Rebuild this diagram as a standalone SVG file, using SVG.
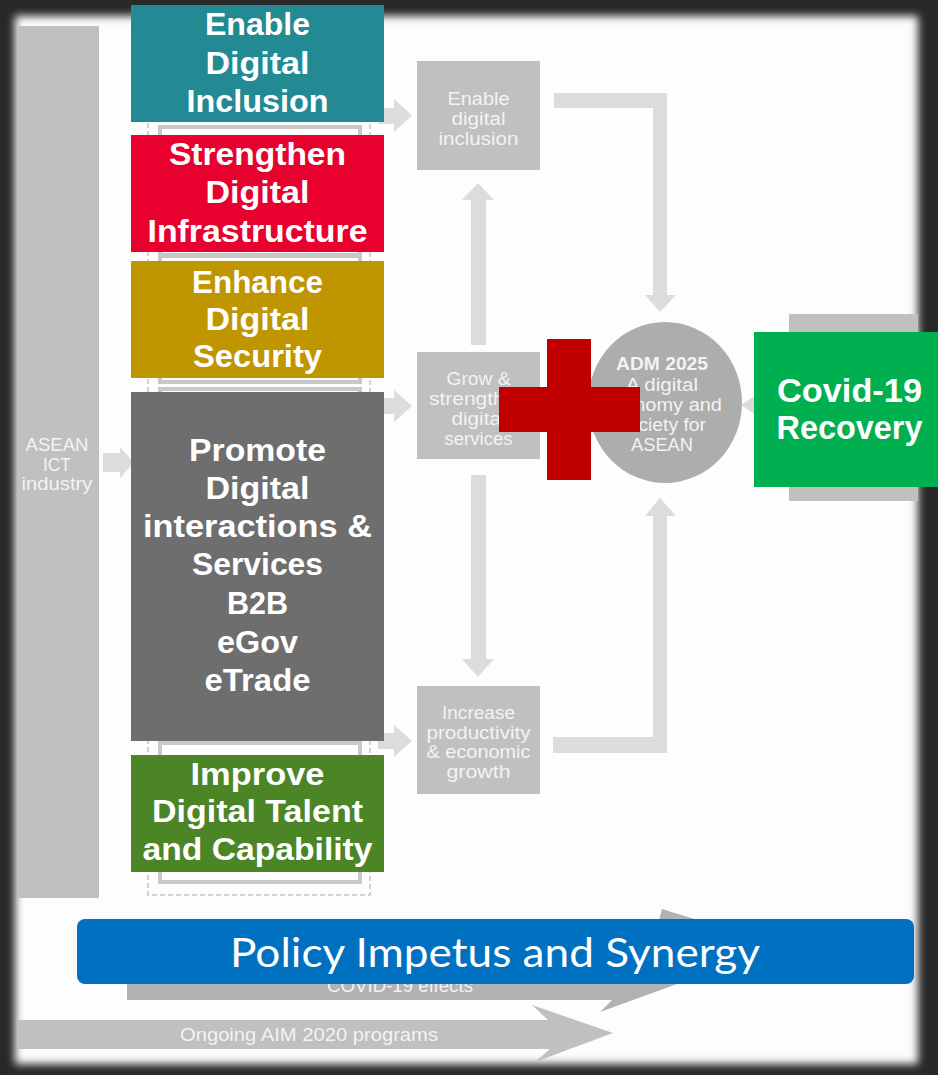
<svg xmlns="http://www.w3.org/2000/svg" width="938" height="1075" viewBox="0 0 938 1075">
<defs>
<style>
.big{font-family:"Liberation Sans",Arial,sans-serif;font-weight:700;font-size:32px;fill:#ffffff;text-anchor:middle}
.cov{font-family:"Liberation Sans",Arial,sans-serif;font-weight:700;font-size:33px;fill:#ffffff;text-anchor:middle}
.sm{font-family:"Liberation Sans",Arial,sans-serif;font-weight:400;font-size:17.5px;fill:#f3f3f3;text-anchor:middle}
.smb{font-family:"Liberation Sans",Arial,sans-serif;font-weight:700;font-size:17.5px;fill:#f3f3f3;text-anchor:middle}
.pol{font-family:Lato,"Open Sans","DejaVu Sans",sans-serif;font-weight:400;font-size:40px;fill:#ffffff;text-anchor:middle}
.gbox{fill:#c0c0c0}
.arr{fill:#dcdcdc}
.frame{fill:#ffffff;stroke:#c8c8c8;stroke-width:4}
</style>
<filter id="soft" x="-5%" y="-5%" width="110%" height="110%"><feGaussianBlur stdDeviation="4"/></filter>
</defs>

<g id="background">
<rect x="0" y="0" width="938" height="1075" fill="#282828"/>
<rect x="15" y="16" width="903" height="1048" fill="#fdfdfd" filter="url(#soft)"/>
</g>

<g id="asean-ict-industry">
<rect class="gbox" x="17" y="26" width="82" height="872"/>
<text class="sm" x="57" y="451" textLength="63" lengthAdjust="spacingAndGlyphs">ASEAN</text>
<text class="sm" x="57" y="471" textLength="28" lengthAdjust="spacingAndGlyphs">ICT</text>
<text class="sm" x="57" y="490" textLength="71" lengthAdjust="spacingAndGlyphs">industry</text>
</g>

<g id="container">
<rect x="148" y="10" width="222" height="885" fill="none" stroke="#c4c4c4" stroke-width="1.5" stroke-dasharray="5 3"/>
<rect class="frame" x="160" y="127" width="200" height="128"/>
<rect class="frame" x="160" y="256" width="200" height="126"/>
<rect class="frame" x="160" y="389" width="200" height="353"/>
<rect class="frame" x="160" y="743" width="200" height="139"/>
</g>

<g id="connectors">
<polygon class="arr" points="103,453 120,453 120,447 134,462.5 120,478 120,472 103,472"/>
<polygon class="arr" points="378,108 394,108 394,99 412,115.5 394,132 394,124 378,124"/>
<polygon class="arr" points="378,398 394,398 394,390 412,406 394,422 394,414 378,414"/>
<polygon class="arr" points="378,733 394,733 394,725 412,741 394,757 394,749 378,749"/>
<polygon class="arr" points="471,345 471,200 462,200 478,183 494,200 486,200 486,345"/>
<polygon class="arr" points="471,475 486,475 486,659 494,659 478,677 462,659 471,659"/>
<polygon class="arr" points="554,93 667,93 667,295 676,295 660,312 645,295 653,295 653,108 554,108"/>
<polygon class="arr" points="553,753 667,753 667,516 676,516 660,498 645,516 653,516 653,737 553,737"/>
<polygon class="arr" points="741,405 756,395 756,415"/>
</g>

<g id="enable-digital-inclusion-grey">
<rect class="gbox" x="417" y="61" width="123" height="109"/>
<text class="sm" x="478.5" y="105" textLength="62" lengthAdjust="spacingAndGlyphs">Enable</text>
<text class="sm" x="478.5" y="125" textLength="54" lengthAdjust="spacingAndGlyphs">digital</text>
<text class="sm" x="478.5" y="145" textLength="80" lengthAdjust="spacingAndGlyphs">inclusion</text>
</g>

<g id="grow-strengthen">
<rect class="gbox" x="417" y="352" width="123" height="107"/>
<text class="sm" x="478.5" y="385" textLength="64" lengthAdjust="spacingAndGlyphs">Grow &amp;</text>
<text class="sm" x="478.5" y="405" textLength="99" lengthAdjust="spacingAndGlyphs">strengthen</text>
<text class="sm" x="478.5" y="425" textLength="54" lengthAdjust="spacingAndGlyphs">digital</text>
<text class="sm" x="478.5" y="445" textLength="68" lengthAdjust="spacingAndGlyphs">services</text>
</g>

<g id="increase-productivity">
<rect class="gbox" x="417" y="686" width="123" height="108"/>
<text class="sm" x="478.5" y="719" textLength="73" lengthAdjust="spacingAndGlyphs">Increase</text>
<text class="sm" x="478.5" y="738.5" textLength="104" lengthAdjust="spacingAndGlyphs">productivity</text>
<text class="sm" x="478.5" y="758" textLength="104" lengthAdjust="spacingAndGlyphs">&amp; economic</text>
<text class="sm" x="478.5" y="777.5" textLength="64" lengthAdjust="spacingAndGlyphs">growth</text>
</g>

<g id="adm-2025">
<ellipse cx="665" cy="402.5" rx="77" ry="80.5" fill="#adadad"/>
<text class="smb" x="662" y="370" textLength="92" lengthAdjust="spacingAndGlyphs">ADM 2025</text>
<text class="sm" x="662" y="391" textLength="72" lengthAdjust="spacingAndGlyphs">A digital</text>
<text class="sm" x="662" y="411" textLength="120" lengthAdjust="spacingAndGlyphs">economy and</text>
<text class="sm" x="662" y="431" textLength="88" lengthAdjust="spacingAndGlyphs">society for</text>
<text class="sm" x="662" y="451" textLength="62" lengthAdjust="spacingAndGlyphs">ASEAN</text>
</g>

<g id="right-grey-box">
<rect class="gbox" x="789" y="314" width="129" height="187"/>
</g>

<g id="covid-effects">
<polygon fill="#b2b2b2" points="127,935 655,935 662,909 782,946 600,1012 612,1000 127,1000"/>
<text class="sm" x="400" y="992" textLength="146" lengthAdjust="spacingAndGlyphs" fill="#ececec">COVID-19 effects</text>
</g>

<g id="ongoing-aim">
<polygon fill="#c0c0c0" points="17,1020 548,1020 532,1005 613,1033 535,1062 550,1049 17,1049"/>
<text class="sm" x="309" y="1041" textLength="258" lengthAdjust="spacingAndGlyphs">Ongoing AIM 2020 programs</text>
</g>

<g id="enable-digital-inclusion">
<rect x="131" y="5" width="253" height="117" fill="#238a93"/>
<text class="big" x="257.5" y="35" textLength="105" lengthAdjust="spacingAndGlyphs">Enable</text>
<text class="big" x="257.5" y="74" textLength="104" lengthAdjust="spacingAndGlyphs">Digital</text>
<text class="big" x="257.5" y="112" textLength="142" lengthAdjust="spacingAndGlyphs">Inclusion</text>
</g>

<g id="strengthen-digital-infrastructure">
<rect x="131" y="135" width="253" height="117" fill="#e8002e"/>
<text class="big" x="257.5" y="165" textLength="177" lengthAdjust="spacingAndGlyphs">Strengthen</text>
<text class="big" x="257.5" y="203" textLength="104" lengthAdjust="spacingAndGlyphs">Digital</text>
<text class="big" x="257.5" y="242" textLength="220" lengthAdjust="spacingAndGlyphs">Infrastructure</text>
</g>

<g id="enhance-digital-security">
<rect x="131" y="261" width="253" height="117" fill="#bf9600"/>
<text class="big" x="257.5" y="293" textLength="131" lengthAdjust="spacingAndGlyphs">Enhance</text>
<text class="big" x="257.5" y="330" textLength="104" lengthAdjust="spacingAndGlyphs">Digital</text>
<text class="big" x="257.5" y="367" textLength="129" lengthAdjust="spacingAndGlyphs">Security</text>
</g>

<g id="promote-digital-interactions">
<rect x="131" y="392" width="253" height="349" fill="#6e6e6e"/>
<text class="big" x="257.5" y="461" textLength="137" lengthAdjust="spacingAndGlyphs">Promote</text>
<text class="big" x="257.5" y="499" textLength="104" lengthAdjust="spacingAndGlyphs">Digital</text>
<text class="big" x="257.5" y="537" textLength="229" lengthAdjust="spacingAndGlyphs">interactions &amp;</text>
<text class="big" x="257.5" y="575" textLength="131" lengthAdjust="spacingAndGlyphs">Services</text>
<text class="big" x="257.5" y="614" textLength="61" lengthAdjust="spacingAndGlyphs">B2B</text>
<text class="big" x="257.5" y="653" textLength="81" lengthAdjust="spacingAndGlyphs">eGov</text>
<text class="big" x="257.5" y="691" textLength="106" lengthAdjust="spacingAndGlyphs">eTrade</text>
</g>

<g id="improve-digital-talent">
<rect x="131" y="755" width="253" height="117" fill="#4b8526"/>
<text class="big" x="257.5" y="785" textLength="134" lengthAdjust="spacingAndGlyphs">Improve</text>
<text class="big" x="257.5" y="822" textLength="211" lengthAdjust="spacingAndGlyphs">Digital Talent</text>
<text class="big" x="257.5" y="860" textLength="230" lengthAdjust="spacingAndGlyphs">and Capability</text>
</g>

<g id="red-cross">
<rect x="547" y="339" width="44" height="141" fill="#c00000"/>
<rect x="499" y="387" width="141" height="45" fill="#c00000"/>
</g>

<g id="covid-recovery">
<rect x="754" y="332" width="184" height="155" fill="#00b050"/>
<text class="cov" x="849.5" y="402" textLength="145" lengthAdjust="spacingAndGlyphs">Covid-19</text>
<text class="cov" x="849.5" y="439" textLength="146" lengthAdjust="spacingAndGlyphs">Recovery</text>
</g>

<g id="policy-impetus">
<rect x="77" y="919" width="837" height="65" rx="8" ry="8" fill="#0070c0"/>
<text class="pol" x="495" y="967" textLength="530" lengthAdjust="spacingAndGlyphs">Policy Impetus and Synergy</text>
</g>
</svg>
